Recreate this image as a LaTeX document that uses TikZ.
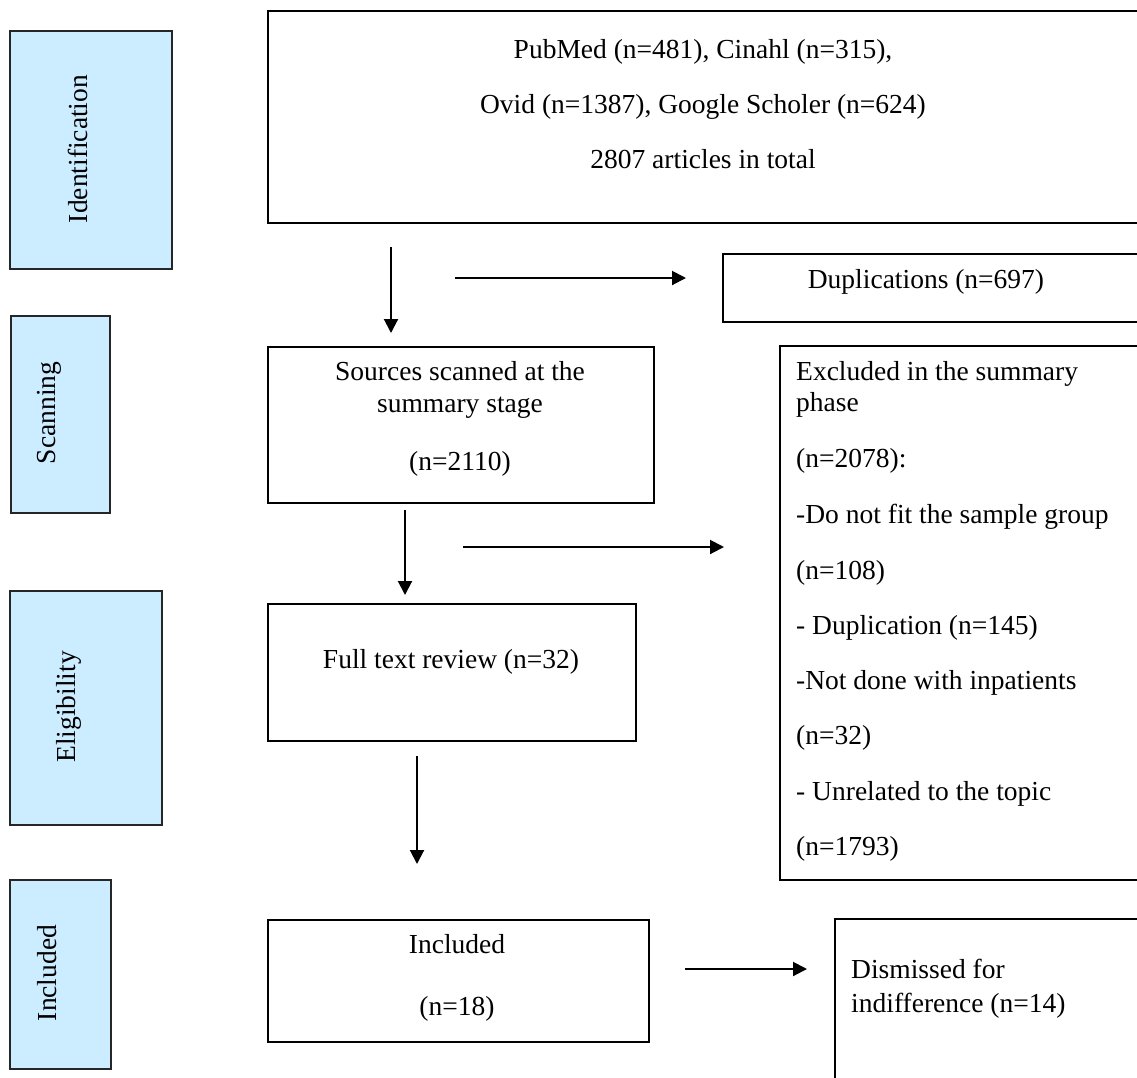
\documentclass[tikz,border=0pt]{standalone}
\usepackage{fontspec}
\setmainfont{Liberation Serif}
\usetikzlibrary{arrows.meta}
\definecolor{stagefill}{RGB}{204,236,255}

\begin{document}
\begin{tikzpicture}[
    x=1pt, y=-1pt,
    box/.style={draw, rectangle, line width=2pt, inner sep=0pt, anchor=north west},
    stage/.style={box, fill=stagefill, draw=black!85, line width=2pt},
    txt/.style={inner sep=0pt, font=\fontsize{27.5}{31}\selectfont},
    arr/.style={line width=2pt, -{Triangle[length=14pt,width=14pt]}}
]
    \useasboundingbox (0,0) rectangle (1137,1077);
    \clip (0,0) rectangle (1137,1077);

    % stage boxes on the left
    \foreach \name/\x/\y/\w/\h in {Ident/9/30/162/238, Scan/10/315/99/197,
                                   Elig/9/590/152/234, Incl/9/879/101/189}
        \node[stage, minimum width=\w pt, minimum height=\h pt] (\name) at (\x,\y) {};

    \node[txt, rotate=90] (IdentLabel) at (78,149) {Identification};
    \node[txt, rotate=90] (ScanLabel)  at (49,413) {Scanning};
    \node[txt, rotate=90] (EligLabel)  at (69,707) {Eligibility};
    \node[txt, rotate=90] (InclLabel)  at (47,973) {Included};

    % flow boxes
    \foreach \name/\x/\y/\w/\h in {search/267/10/950/212, dupl/722/253/500/68,
                                   sources/267/346/386/156, excluded/779/345/450/534,
                                   fulltext/267/603/368/137, included/267/919/381/122,
                                   dismissed/834/918/400/200}
        \node[box, minimum width=\w pt, minimum height=\h pt] (\name) at (\x,\y) {};

    % texts
    \foreach \i/\y/\txt in {1/58/{PubMed (n=481), Cinahl (n=315),},
                            2/113/{Ovid (n=1387), Google Scholer (n=624)},
                            3/168/{2807 articles in total}}
        \node[txt, anchor=base] (searchT\i) at (703,\y) {\txt};

    \node[txt, anchor=base] (duplT) at (926,288) {Duplications (n=697)};

    \foreach \i/\y/\txt in {1/380/{Sources scanned at the}, 2/412/{summary stage}, 3/470/{(n=2110)}}
        \node[txt, anchor=base] (sourcesT\i) at (460,\y) {\txt};

    \foreach \i/\y/\txt in {1/380/{Excluded in the summary}, 2/411/{phase},
                            3/467/{(n=2078):}, 4/523/{-Do not fit the sample group},
                            5/579/{(n=108)}, 6/634/{- Duplication (n=145)},
                            7/689/{-Not done with inpatients}, 8/744/{(n=32)},
                            9/800/{- Unrelated to the topic}, 10/855/{(n=1793)}}
        \node[txt, anchor=base west] (excludedT\i) at (796,\y) {\txt};

    \node[txt, anchor=base] (fulltextT) at (451,668) {Full text review (n=32)};

    \node[txt, anchor=base] (includedT1) at (457,953) {Included};
    \node[txt, anchor=base] (includedT2) at (457,1015) {(n=18)};

    \node[txt, anchor=base west] (dismissedT1) at (851,978) {Dismissed for};
    \node[txt, anchor=base west] (dismissedT2) at (851,1012) {indifference (n=14)};

    % arrows
    \coordinate (a1) at (391,247);  \coordinate (b1) at (391,333);
    \coordinate (a2) at (455,278);  \coordinate (b2) at (686,278);
    \coordinate (a3) at (405,510);  \coordinate (b3) at (405,595);
    \coordinate (a4) at (463,547);  \coordinate (b4) at (724,547);
    \coordinate (a5) at (417,756);  \coordinate (b5) at (417,864);
    \coordinate (a6) at (685,969);  \coordinate (b6) at (807,969);

    \foreach \i in {1,...,6}
        \draw[arr] (a\i) -- (b\i);
\end{tikzpicture}
\end{document}
